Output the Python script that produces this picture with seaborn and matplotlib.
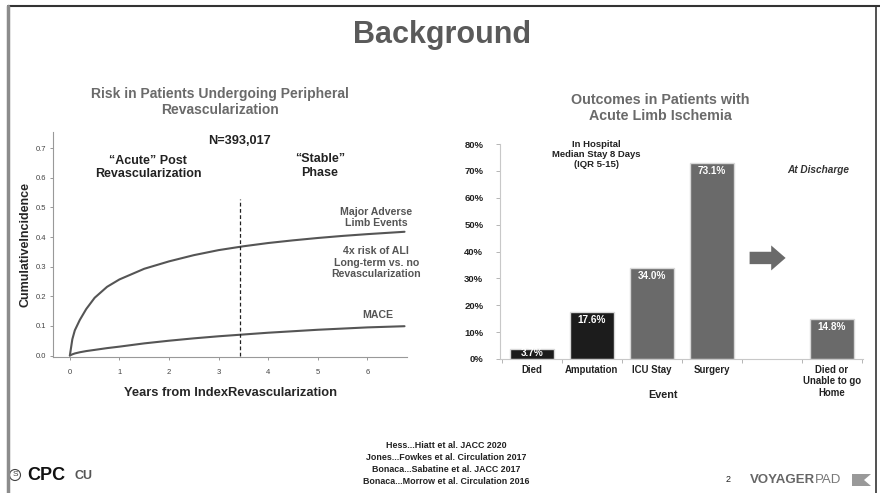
import matplotlib
matplotlib.use("Agg")
import matplotlib.pyplot as plt
from matplotlib.lines import Line2D
from matplotlib.patches import FancyArrow, Ellipse, Polygon
import seaborn as sns
import pandas as pd

# datos - curva de incidencia acumulada
years = [0, 0.05, 0.1, 0.2, 0.33, 0.5, 0.75, 1, 1.5, 2, 2.5, 3, 3.5, 4, 4.5, 5, 5.5, 6, 6.75]
male = [0, 0.055, 0.085, 0.12, 0.157, 0.195, 0.232, 0.257, 0.293, 0.318, 0.339, 0.356, 0.369, 0.38, 0.389, 0.397, 0.404, 0.41, 0.418]
mace = [0, 0.004, 0.007, 0.011, 0.015, 0.019, 0.025, 0.03, 0.041, 0.05, 0.058, 0.065, 0.071, 0.077, 0.082, 0.087, 0.091, 0.095, 0.099]
phase_split = 3.43

# datos - resultados en isquemia aguda
events = ['Died', 'Amputation', 'ICU Stay', 'Surgery', 'gap', 'Died or\nUnable to go\nHome']
event_pct = [3.7, 17.6, 34.0, 73.1, None, 14.8]
event_labels = ['Died', 'Amputation', 'ICU Stay', 'Surgery', '', 'Died or\nUnable to go\nHome']

references = ['Hess...Hiatt et al. JACC 2020',
              'Jones...Fowkes et al. Circulation 2017',
              'Bonaca...Sabatine et al. JACC 2017',
              'Bonaca...Morrow et al. Circulation 2016']

sns.set_style('white')
plt.rcParams['font.family'] = ['Liberation Sans', 'DejaVu Sans']

fig = plt.figure(figsize=(8.8, 4.93), dpi=100)
W, H = 880, 493

def px_axes(x0, y0, x1, y1):
    return fig.add_axes([x0 / W, 1 - y1 / H, (x1 - x0) / W, (y1 - y0) / H])

# marco de la diapositiva
fig.add_artist(Line2D([8 / W, 1], [1 - 6 / H] * 2, color='#333333', lw=1.5, transform=fig.transFigure))
fig.add_artist(Line2D([8 / W] * 2, [0, 1 - 6 / H], color='#8c8c8c', lw=2.5, transform=fig.transFigure))
fig.add_artist(Line2D([876 / W] * 2, [0, 1 - 6 / H], color='#333333', lw=1.2, transform=fig.transFigure))

fig.text(442 / W, 1 - 35 / H, 'Background', ha='center', va='center',
         fontsize=22, fontweight='bold', color='#5a5a5a')

# ---- grafico izquierdo ----
ax1 = px_axes(53, 132, 407, 357)
sns.lineplot(x=years, y=male, ax=ax1, color='#555555', lw=1.5)
sns.lineplot(x=years, y=mace, ax=ax1, color='#555555', lw=1.5)
ax1.plot([phase_split, phase_split], [0, 0.53], color='#222222', lw=0.9, ls=(0, (3, 2)))
ax1.set_xlim(-0.34, 6.8)
ax1.set_ylim(-0.005, 0.755)
ax1.set_xticks(range(0, 7))
ax1.set_yticks([0, 0.1, 0.2, 0.3, 0.4, 0.5, 0.6, 0.7])
ax1.set_yticklabels([f'{v:.1f}' for v in ax1.get_yticks()])
ax1.tick_params(axis='both', labelsize=5.5, labelcolor='#444444', length=2.5, width=0.6,
                color='#888888', direction='out', left=True, bottom=True)
ax1.tick_params(axis='y', pad=2.5)
ax1.tick_params(axis='x', pad=6)
for s in ['top', 'right']:
    ax1.spines[s].set_visible(False)
for s in ['left', 'bottom']:
    ax1.spines[s].set_color('#999999')
    ax1.spines[s].set_linewidth(0.8)
ax1.set_xlabel('Years from IndexRevascularization', fontsize=9.3, fontweight='bold', labelpad=8)
ax1.set_ylabel('CumulativeIncidence', fontsize=9, fontweight='bold', labelpad=3)

ax1.text(3.42, 0.725, 'N=393,017', ha='center', va='center', fontsize=9.2, fontweight='bold', color='#222222')
ax1.text(1.58, 0.636, '\u201cAcute\u201d Post\nRevascularization', ha='center', va='center',
         fontsize=9, fontweight='bold', color='#222222', linespacing=1.15)
ax1.text(5.04, 0.64, '\u201cStable\u201d\nPhase', ha='center', va='center',
         fontsize=9, fontweight='bold', color='#222222', linespacing=1.15)
ax1.text(6.18, 0.467, 'Major Adverse\nLimb Events', ha='center', va='center',
         fontsize=7.6, fontweight='bold', color='#555555', linespacing=1.1)
ax1.text(6.18, 0.314, '4x risk of ALI\nLong-term vs. no\nRevascularization', ha='center', va='center',
         fontsize=7.6, fontweight='bold', color='#555555', linespacing=1.2)
ax1.text(6.22, 0.137, 'MACE', ha='center', va='center', fontsize=7.6, fontweight='bold', color='#555555')

fig.text(220 / W, 1 - 102 / H, 'Risk in Patients Undergoing Peripheral\nRevascularization',
         ha='center', va='center', fontsize=10, fontweight='bold', color='#6a6a6a', linespacing=1.25)

# ---- grafico derecho ----
ax2 = px_axes(500, 144, 863, 359)
df = pd.DataFrame({'event': events, 'pct': event_pct})
df = df[df['event'] != 'gap']
bar_colors = {'Died': '#1c1c1c', 'Amputation': '#1c1c1c', 'ICU Stay': '#6a6a6a',
              'Surgery': '#6a6a6a', 'Died or\nUnable to go\nHome': '#6a6a6a'}
sns.barplot(data=df, x='event', y='pct', hue='event', order=events, palette=bar_colors,
            width=0.73, edgecolor='#d8d8d8', linewidth=1, legend=False, ax=ax2)
ax2.set_xlim(-0.53, 5.52)
ax2.set_ylim(0, 80)
ax2.set_yticks(range(0, 81, 10))
ax2.set_yticklabels([f'{v}%' for v in range(0, 81, 10)])
ax2.set_xticks(range(len(events)))
ax2.set_xticklabels(event_labels)
ax2.set_xticks([i - 0.5 for i in range(len(events) + 1)], minor=True)
ax2.tick_params(axis='x', which='major', length=0, labelsize=6.9, pad=4)
ax2.tick_params(axis='x', which='minor', length=3, width=0.6, color='#aaaaaa', direction='out', bottom=True)
ax2.tick_params(axis='y', length=3, width=0.6, color='#aaaaaa', direction='out', left=True, labelsize=6.8, pad=9)
for lab in ax2.get_xticklabels() + ax2.get_yticklabels():
    lab.set_fontweight('bold')
    lab.set_color('#222222')
for s in ['top', 'right']:
    ax2.spines[s].set_visible(False)
for s in ['left', 'bottom']:
    ax2.spines[s].set_color('#c8c8c8')
    ax2.spines[s].set_linewidth(0.8)
ax2.set_xlabel('')
ax2.set_ylabel('')

for i, v in enumerate(event_pct):
    if v is None:
        continue
    if v < 6:
        # barra muy baja: etiqueta centrada en la barra
        ax2.text(i, v / 2 + 0.4, f'{v:.1f}%', ha='center', va='center', fontsize=7.2,
                 fontweight='bold', color='white')
    else:
        ax2.text(i, v - 1.2, f'{v:.1f}%', ha='center', va='top', fontsize=7.2,
                 fontweight='bold', color='white')

ax2.text(2.18, -13.5, 'Event', ha='center', va='center', fontsize=7.8, fontweight='bold', color='#222222')
ax2.text(1.08, 76.2, 'In Hospital\nMedian Stay 8 Days\n(IQR 5-15)', ha='center', va='center',
         fontsize=6.8, fontweight='bold', color='#222222', linespacing=1.15)
ax2.text(4.78, 70.3, 'At Discharge', ha='center', va='center', fontsize=7.2,
         fontweight='bold', style='italic', color='#333333')
ax2.add_patch(FancyArrow(3.63, 37.6, 0.6, 0, width=4.6, head_width=9.3, head_length=0.24,
                         length_includes_head=True, color='#6a6a6a', lw=0))

fig.text(660 / W, 1 - 108 / H, 'Outcomes in Patients with\nAcute Limb Ischemia',
         ha='center', va='center', fontsize=10.3, fontweight='bold', color='#6a6a6a', linespacing=1.25)

# ---- pie de pagina ----
for k, ref in enumerate(references):
    fig.text(446 / W, 1 - (445 + 12.2 * k) / H, ref, ha='center', va='center',
             fontsize=6.4, fontweight='bold', color='#222222')

# logos (aproximados)
fig.add_artist(Ellipse((15 / W, 1 - 475 / H), 11 / W, 11 / H, transform=fig.transFigure,
                       fill=False, ec='#444444', lw=0.8))
fig.text(15 / W, 1 - 475 / H, 'S', ha='center', va='center', fontsize=6, color='#444444')
fig.text(27 / W, 1 - 476 / H, 'CPC', ha='left', va='center', fontsize=13, fontweight='bold', color='#111111')
fig.text(74 / W, 1 - 476 / H, 'CU', ha='left', va='center', fontsize=9, fontweight='bold', color='#555555')
fig.text(728 / W, 1 - 480 / H, '2', ha='center', va='center', fontsize=6.5, color='#222222')
fig.text(750 / W, 1 - 480 / H, 'VOYAGER', ha='left', va='center', fontsize=9.5,
         fontweight='bold', color='#666666')
fig.text(815 / W, 1 - 480 / H, 'PAD', ha='left', va='center', fontsize=9.5, color='#777777')
fig.add_artist(Polygon([[852 / W, 1 - 474 / H], [871 / W, 1 - 474 / H], [864 / W, 1 - 480 / H],
                        [871 / W, 1 - 486 / H], [852 / W, 1 - 486 / H]],
                       closed=True, transform=fig.transFigure, fc='#999999', ec='none'))

fig.savefig('out.png', dpi=100)
